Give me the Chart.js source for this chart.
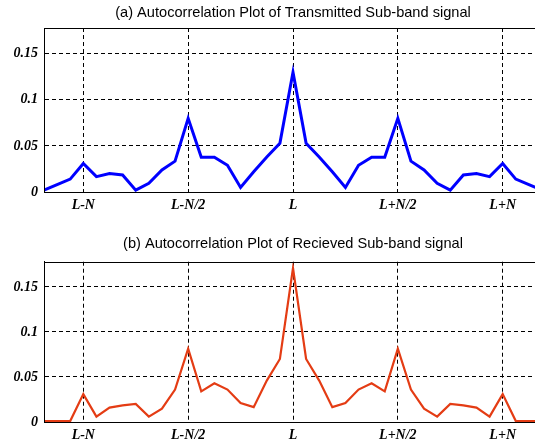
<!DOCTYPE html>
<html>
<head>
<meta charset="utf-8">
<script src="https://cdn.jsdelivr.net/npm/chart.js@4.4.0/dist/chart.umd.min.js"></script>
<style>
  html, body { margin: 0; padding: 0; background: #fff; overflow: hidden; }
  .box { position: absolute; left: 0; width: 548px; height: 216px; }
</style>
</head>
<body>
<div class="box" style="top:0px"><canvas id="txChart"></canvas></div>
<div class="box" style="top:230px"><canvas id="rxChart"></canvas></div>
<script>
// lag offsets around L (samples), N = 16
const lags = [-19, -18, -17, -16, -15, -14, -13, -12, -11, -10, -9, -8, -7, -6, -5, -4, -3, -2, -1,
  0, 1, 2, 3, 4, 5, 6, 7, 8, 9, 10, 11, 12, 13, 14, 15, 16, 17, 18, 19];

const transmitted = [0.002, 0.008, 0.014, 0.031, 0.0167, 0.020, 0.0185, 0.002, 0.0094, 0.024,
  0.0335, 0.080, 0.0377, 0.0377, 0.029, 0.005, 0.022, 0.038, 0.053,
  0.130,
  0.053, 0.038, 0.022, 0.005, 0.029, 0.0377, 0.0377, 0.080, 0.0335, 0.024,
  0.0094, 0.002, 0.0185, 0.020, 0.0167, 0.031, 0.014, 0.008, 0.002];

const received = [0.001, 0.001, 0.001, 0.031, 0.006, 0.016, 0.0185, 0.020, 0.006, 0.0148,
  0.036, 0.0815, 0.034, 0.043, 0.036, 0.021, 0.0165, 0.046, 0.070,
  0.171,
  0.070, 0.046, 0.0165, 0.021, 0.036, 0.043, 0.034, 0.0815, 0.036, 0.0148,
  0.006, 0.020, 0.0185, 0.016, 0.006, 0.031, 0.001, 0.001, 0.001];

const xTickValues = [-16, -8, 0, 8, 16];
const xTickLabels = ['L-N', 'L-N/2', 'L', 'L+N/2', 'L+N'];
const yTickValues = [0, 0.05, 0.1, 0.15];
const yTickLabels = ['0', '0.05', '0.1', '0.15'];

const tickFont = { family: '"Liberation Serif", "Times New Roman", serif', size: 14, style: 'italic', weight: 'bold' };

// closes the axes box (top and right edges)
const frame = {
  id: 'frame',
  afterDraw(chart) {
    const a = chart.chartArea, c = chart.ctx;
    c.save();
    c.strokeStyle = '#000';
    c.lineWidth = 1;
    c.strokeRect(Math.round(a.left) + 0.5, Math.round(a.top) + 0.5,
      Math.round(a.right - a.left), Math.round(a.bottom - a.top));
    c.restore();
  }
};

function makeChart(id, title, values, color, width, titlePad) {
  return new Chart(document.getElementById(id).getContext('2d'), {
    type: 'line',
    data: {
      datasets: [{
        data: lags.map((x, i) => ({ x: x, y: values[i] })),
        borderColor: color,
        borderWidth: width,
        pointRadius: 0,
        tension: 0,
        fill: false
      }]
    },
    options: {
      responsive: true,
      maintainAspectRatio: false,
      animation: false,
      layout: { padding: { left: 0, right: 6, top: 0, bottom: 0 } },
      plugins: {
        legend: { display: false },
        tooltip: { enabled: false },
        title: {
          display: true,
          text: title,
          fullSize: false,
          color: '#000',
          font: { family: '"Liberation Sans", Arial, sans-serif', size: 14.6, weight: 'normal' },
          padding: titlePad
        }
      },
      scales: {
        x: {
          type: 'linear',
          min: -19,
          max: 19,
          afterBuildTicks: s => { s.ticks = xTickValues.map(v => ({ value: v })); },
          afterFit: s => { s.height = 24; },
          ticks: {
            color: '#000',
            font: tickFont,
            padding: 5,
            maxRotation: 0,
            callback: v => xTickLabels[xTickValues.indexOf(v)]
          },
          grid: { color: '#000', lineWidth: 1, drawTicks: false },
          border: { display: true, color: '#000', dash: [4, 3] }
        },
        y: {
          min: 0,
          max: 0.178,
          afterBuildTicks: s => { s.ticks = yTickValues.map(v => ({ value: v })); },
          afterFit: s => { s.width = 44; },
          ticks: {
            color: '#000',
            font: tickFont,
            padding: 6,
            callback: v => yTickLabels[yTickValues.indexOf(v)]
          },
          grid: { color: '#000', lineWidth: 1, drawTicks: false },
          border: { display: true, color: '#000', dash: [4, 3] }
        }
      }
    },
    plugins: [frame]
  });
}

makeChart('txChart', '(a) Autocorrelation Plot of Transmitted Sub-band signal',
  transmitted, '#0000ff', 3, { top: 4, bottom: 6.5 });
makeChart('rxChart', '(b) Autocorrelation Plot of Recieved Sub-band signal',
  received, '#e43c14', 2.2, { top: 5.5, bottom: 8.7 });
</script>
</body>
</html>
